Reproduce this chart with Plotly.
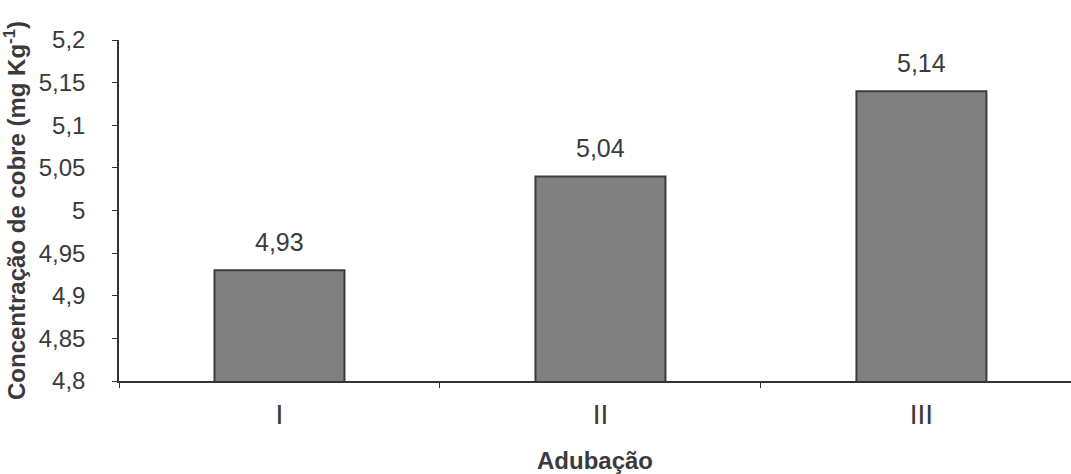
import plotly.graph_objects as go

# Copper concentration by fertilisation treatment
categories = ["I", "II", "III"]
copper = [4.93, 5.04, 5.14]
value_labels = ["4,93", "5,04", "5,14"]

y_tick_values = [4.8, 4.85, 4.9, 4.95, 5.0, 5.05, 5.1, 5.15, 5.2]
y_tick_labels = ["4,8", "4,85", "4,9", "4,95", "5", "5,05", "5,1", "5,15", "5,2"]

font_family = "Arial, Liberation Sans, sans-serif"
text_color = "#3a3a3a"
axis_color = "#333333"

fig = go.Figure(
    go.Bar(
        x=categories,
        y=copper,
        base=0,
        width=0.405,
        marker=dict(color="#808080", line=dict(color="#3c3c3c", width=2)),
        hoverinfo="skip",
    )
)

# value labels sitting a little above each bar
for cat, val, lab in zip(categories, copper, value_labels):
    fig.add_annotation(
        x=cat,
        y=val,
        text=lab,
        showarrow=False,
        yanchor="bottom",
        yshift=12,
        font=dict(family=font_family, size=25, color=text_color),
    )

fig.update_layout(
    width=1071,
    height=474,
    margin=dict(l=119, r=0, t=40, b=93),
    paper_bgcolor="white",
    plot_bgcolor="white",
    showlegend=False,
    font=dict(family=font_family, color=text_color),
)

fig.update_xaxes(
    range=[-0.5, 2.466],
    showgrid=False,
    showline=True,
    linecolor=axis_color,
    linewidth=1.5,
    ticks="outside",
    tickson="boundaries",
    ticklen=5,
    tickcolor=axis_color,
    tickfont=dict(family=font_family, size=28, color=text_color),
    ticklabelstandoff=8,
    title=dict(
        text="<b>Adubação</b>",
        font=dict(family=font_family, size=24, color=text_color),
        standoff=24,
    ),
)

fig.update_yaxes(
    range=[4.8, 5.2],
    tickvals=y_tick_values,
    ticktext=y_tick_labels,
    showgrid=False,
    zeroline=False,
    showline=True,
    linecolor=axis_color,
    linewidth=1.5,
    ticks="outside",
    ticklen=5,
    tickcolor=axis_color,
    tickfont=dict(family=font_family, size=24, color=text_color),
    ticklabelstandoff=22,
    title=dict(
        text="<b>Concentração de cobre (mg Kg<sup>-1</sup>)</b>",
        font=dict(family=font_family, size=24, color=text_color),
        standoff=6,
    ),
)

fig.write_html("out.html")
